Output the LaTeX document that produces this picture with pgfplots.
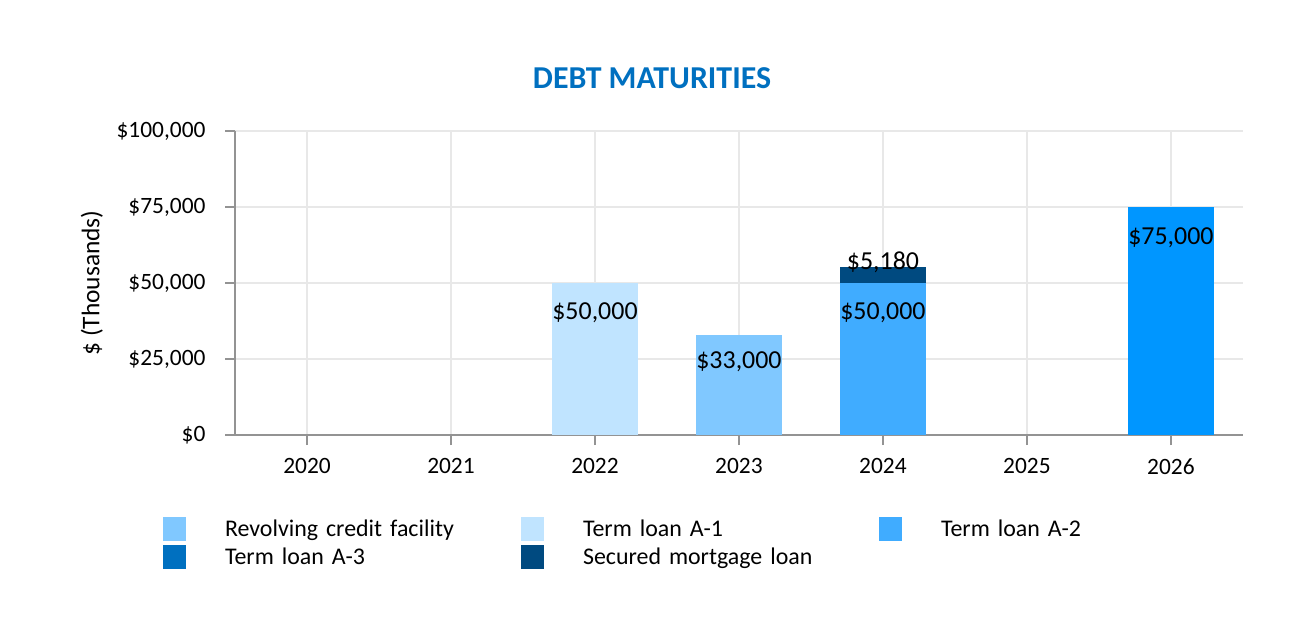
\documentclass[border=0pt]{standalone}
\usepackage{pgfplots}
\pgfplotsset{compat=1.18}
\usepackage{pgfplotstable}
\usepackage{fontspec}
\setmainfont{Carlito}
\definecolor{crev}{HTML}{80C8FF}
\definecolor{ca1}{HTML}{C0E4FF}
\definecolor{ca2}{HTML}{40ACFF}
\definecolor{ca3}{HTML}{0070C0}
\definecolor{ca3bar}{HTML}{0096FF}
\definecolor{csec}{HTML}{004A80}
\definecolor{ctitle}{HTML}{0070C0}
\pgfplotsset{swatch/.style={legend image code/.code={\fill[##1] (0bp,-12bp) rectangle (23bp,12bp);}}}
\pgfplotstableread{
x rev a1 a2 sec a3
0 0 0 0 0 0
1 0 0 0 0 0
2 0 50000 0 0 0
3 33000 0 0 0 0
4 0 0 50000 5180 0
5 0 0 0 0 0
6 0 0 0 0 75000
}\debt
\newcommand{\lbl}{\pgfmathfloatparsenumber{\pgfplotspointmeta}\pgfmathfloatifflags{\pgfmathresult}{0}{}{\$\pgfmathprintnumber[fixed,precision=0,1000 sep={,},assume math mode=true]{\pgfplotspointmeta}}}
\begin{document}
\begin{tikzpicture}
\useasboundingbox (0,0) rectangle (1308bp,644bp);
\begin{axis}[
  at={(235bp,209bp)}, anchor=south west,
  width=1008bp, height=304bp, scale only axis,
  ybar stacked, bar width=0.6,
  xmin=-0.5, xmax=6.5, ymin=0, ymax=100000,
  xtick={0,...,6}, xticklabels={2020,2021,2022,2023,2024,2025,2026},
  ytick={0,25000,50000,75000,100000},
  scaled y ticks=false,
  yticklabel={\$\pgfmathprintnumber[fixed,precision=0,1000 sep={,},assume math mode=true]{\tick}},
  axis lines*=left,
  axis line style={draw=gray!85, line width=2bp},
  tick align=outside, major tick length=10bp,
  tick style={draw=gray!85, line width=1.5bp},
  grid=major, major grid style={draw=gray!18, line width=1.5bp},
  ticklabel style={font=\fontsize{23.5}{28}\selectfont},
  yticklabel style={xshift=-16bp},
  xticklabel style={yshift=-10bp},
  ylabel={\$ (Thousands)},
  ylabel style={at={(axis description cs:-0.1419,0.5)}, anchor=center, font=\fontsize{25.5}{30}\selectfont},
  title={DEBT MATURITIES},
  title style={at={(axis description cs:0.4137,1.155)}, anchor=center, font=\bfseries\fontsize{32}{38}\selectfont, text=ctitle},
  every axis plot post/.append style={swatch},
  legend columns=3,
  legend cell align=left,
  legend style={at={(axis description cs:-0.0714,-0.2697)}, anchor=north west, draw=none, fill=none, inner sep=0pt, outer sep=0pt, row sep=4bp, font=\fontsize{24}{28}\selectfont, nodes={inner sep=0pt, text width=296bp, text height=19bp, text depth=3bp}, /tikz/every odd column/.append style={column sep=39bp}},
  point meta=explicit,
  nodes near coords={\lbl},
  every node near coord/.append style={font=\fontsize{26}{30}\selectfont, text=black, anchor=center},
]
\addplot[fill=crev, draw=none, forget plot, every node near coord/.append style={yshift=23bp}] table[x=x, y=rev, meta=rev] {\debt};
\addplot[fill=ca1, draw=none, forget plot, every node near coord/.append style={yshift=46bp}] table[x=x, y=a1, meta=a1] {\debt};
\addplot[fill=ca2, draw=none, forget plot, every node near coord/.append style={yshift=46bp}] table[x=x, y=a2, meta=a2] {\debt};
\addplot[fill=csec, draw=none, forget plot, every node near coord/.append style={yshift=13bp}] table[x=x, y=sec, meta=sec] {\debt};
\addplot[fill=ca3bar, draw=none, forget plot, every node near coord/.append style={yshift=83bp}] table[x=x, y=a3, meta=a3] {\debt};
\addlegendimage{swatch, fill=crev, draw=none}
\addlegendentry{Revolving credit facility}
\addlegendimage{swatch, fill=ca1, draw=none}
\addlegendentry{Term loan A-1}
\addlegendimage{swatch, fill=ca2, draw=none}
\addlegendentry{Term loan A-2}
\addlegendimage{swatch, fill=ca3, draw=none}
\addlegendentry{Term loan A-3}
\addlegendimage{swatch, fill=csec, draw=none}
\addlegendentry{Secured mortgage loan}
\end{axis}
\end{tikzpicture}
\end{document}
